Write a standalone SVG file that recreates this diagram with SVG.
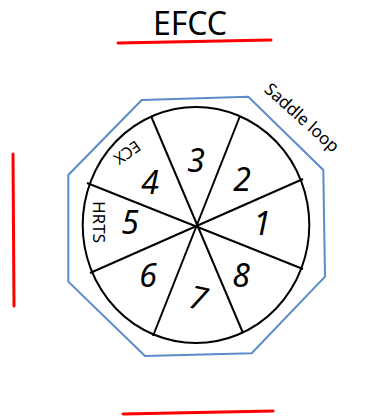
<svg xmlns="http://www.w3.org/2000/svg" width="373" height="419" viewBox="0 0 373 419">
<style>
.red{stroke:#ff0000;stroke-width:3;fill:none;stroke-linecap:round}
.blk{stroke:#000;stroke-width:2;fill:none}
.num{font-family:"Noto Sans","Open Sans",sans-serif;font-size:32px;font-style:italic;text-anchor:middle;fill:#000}
.lbl{font-family:"Noto Sans","Open Sans",sans-serif;fill:#000;text-anchor:middle}
</style>
<rect width="373" height="419" fill="#fff"/>
<g id="title">
<text class="lbl" x="190" y="35" font-size="32">EFCC</text>
</g>
<g id="red-lines">
<line class="red" x1="118" y1="43" x2="271" y2="40"/>
<line class="red" x1="13" y1="154" x2="14" y2="306"/>
<line class="red" x1="123" y1="414" x2="273" y2="411"/>
</g>
<g id="saddle-loop">
<polygon points="141.7,100 248.3,96.7 323.3,170 325,276.7 251.7,353.3 145,356 68.3,281.7 68.3,175" fill="none" stroke="#5b8bcb" stroke-width="2"/>
<text class="lbl" font-size="17" transform="translate(298,122) rotate(42)">Saddle loop</text>
</g>
<g id="wheel">
<ellipse class="blk" cx="196" cy="225" rx="113.3" ry="118"/>
</g>
<g id="connectors">
<line class="blk" x1="151" y1="116" x2="243" y2="333"/>
<line class="blk" x1="240" y1="116" x2="153" y2="336"/>
<line class="blk" x1="303" y1="179" x2="90" y2="273"/>
<line class="blk" x1="303" y1="269" x2="87" y2="183"/>
</g>
<g id="sector-1"><text class="num" x="262" y="235">1</text></g>
<g id="sector-2"><text class="num" x="242" y="191">2</text></g>
<g id="sector-3"><text class="num" x="196" y="172">3</text></g>
<g id="sector-4"><text class="num" x="150" y="194">4</text></g>
<g id="sector-5"><text class="num" x="130" y="234">5</text></g>
<g id="sector-6"><text class="num" x="148" y="287">6</text></g>
<g id="sector-7"><text class="num" transform="translate(196,309) rotate(12)">7</text></g>
<g id="sector-8"><text class="num" x="241" y="287">8</text></g>
<g id="ecx"><text class="lbl" font-size="16" transform="translate(124,148) rotate(145)">ECX</text></g>
<g id="hrts"><text class="lbl" font-size="17" transform="translate(93,222) rotate(90)">HRTS</text></g>
</svg>
